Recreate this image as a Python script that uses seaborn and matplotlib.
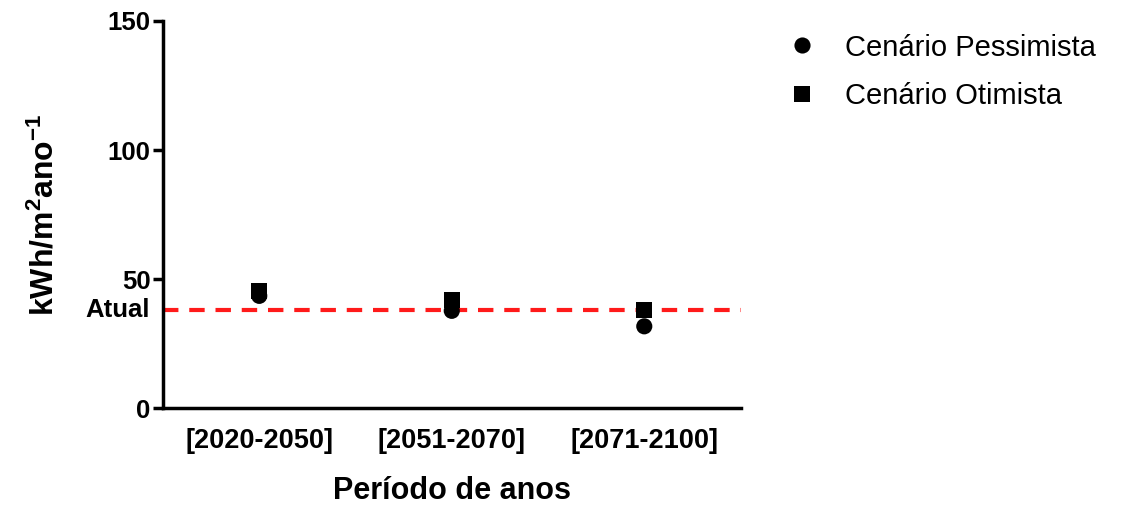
import matplotlib
matplotlib.use("Agg")
import matplotlib.pyplot as plt
import matplotlib.transforms as mtransforms
import seaborn as sns
import pandas as pd

periodos = ["[2020-2050]", "[2051-2070]", "[2071-2100]"]
pessimista = [43.5, 37.7, 31.7]
otimista = [45.5, 42.0, 38.0]
atual = 38.0
series_names = ["Cenário Pessimista", "Cenário Otimista"]

df = pd.DataFrame({
    "periodo": periodos * 2,
    "valor": pessimista + otimista,
    "cenario": [series_names[0]] * 3 + [series_names[1]] * 3,
})

sns.set_theme(style="ticks")
plt.rcParams["font.family"] = ["Liberation Sans", "DejaVu Sans"]
plt.rcParams["mathtext.fontset"] = "custom"
plt.rcParams["mathtext.rm"] = "Liberation Sans"
plt.rcParams["mathtext.bf"] = "Liberation Sans:bold"
plt.rcParams["text.color"] = "black"
plt.rcParams["axes.labelcolor"] = "black"
plt.rcParams["xtick.color"] = "black"
plt.rcParams["ytick.color"] = "black"
plt.rcParams["axes.edgecolor"] = "black"

fig = plt.figure(figsize=(11.28, 5.07), dpi=100)
ax = fig.add_axes([0.1445, 0.195, 0.512, 0.7636])

sns.scatterplot(data=df, x="periodo", y="valor", hue="cenario", style="cenario",
                markers={series_names[0]: "o", series_names[1]: "s"},
                palette={series_names[0]: "black", series_names[1]: "black"},
                s=135, linewidth=0, ax=ax, zorder=3)

ax.axhline(atual, color="#ff1a1a", lw=3, ls=(0, (3.7, 2.6)), zorder=2)

ax.set_xlim(-0.5, 2.5)
ax.set_ylim(0, 150)
ax.set_yticks([0, 50, 100, 150])
ax.set_yticklabels(["0", "50", "100", "150"], fontsize=18.5, fontweight="bold")
ax.set_xticks(range(len(periodos)))
ax.set_xticklabels(periodos, fontsize=19.5, fontweight="bold")
ax.tick_params(axis="x", length=0, pad=14)
ax.tick_params(axis="y", length=7, width=2.5, pad=2)

trans = mtransforms.blended_transform_factory(ax.transAxes, ax.transData)
ax.text(-0.022, atual, "Atual", transform=trans, ha="right", va="center",
        fontsize=18.5, fontweight="bold")

ax.set_xlabel("Período de anos", fontsize=22, fontweight="bold", labelpad=16)
ax.set_ylabel(r"$\mathbf{kWh/m^{2}ano^{-1}}$", fontsize=23)
ax.yaxis.set_label_coords(-0.178, 0.5)

for sp in ["top", "right"]:
    ax.spines[sp].set_visible(False)
for sp in ["left", "bottom"]:
    ax.spines[sp].set_linewidth(2.5)

handles, labels = ax.get_legend_handles_labels()
ax.legend(handles, labels, loc="upper left", bbox_to_anchor=(1.035, 1.035),
          frameon=False, fontsize=21, markerscale=1.0, handletextpad=1.0,
          labelspacing=0.7, handlelength=1.0)

fig.savefig("out.png", dpi=100)
